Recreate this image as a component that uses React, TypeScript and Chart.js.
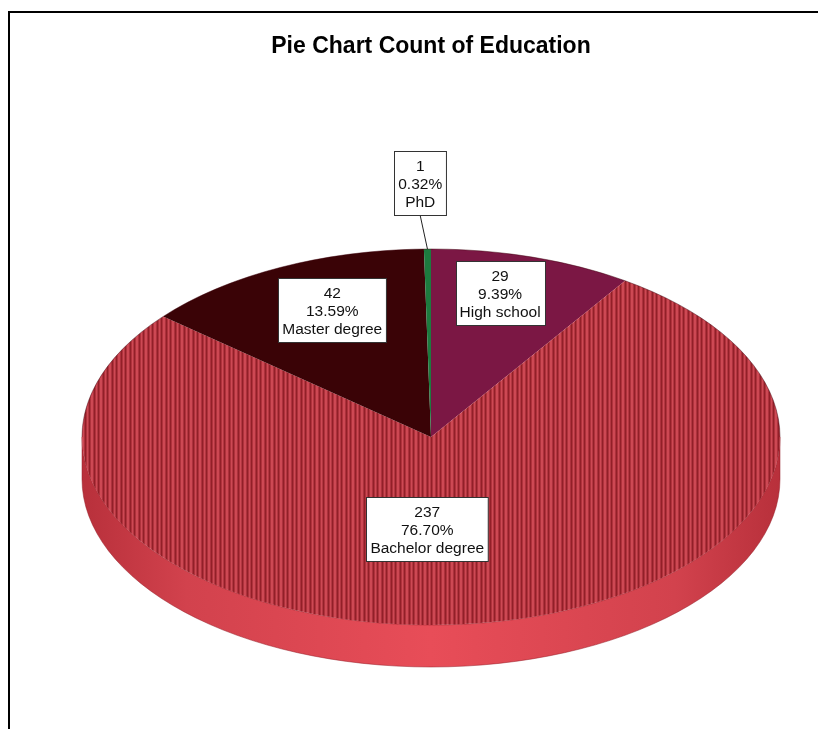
import React, { useEffect, useRef } from 'react';
import { Chart, registerables } from 'chart.js';

Chart.register(...registerables);

// ---------- data ----------
const titleText = 'Pie Chart Count of Education';
const categories = ['High school', 'Bachelor degree', 'Master degree', 'PhD'];
const counts = [29, 237, 42, 1];

// ---------- styles ----------
const FONT = '"Liberation Sans", Arial, Helvetica, sans-serif';
const SOLID_COLORS = ['#7b1744', null, '#3a0306', '#1d7a3e'];
const ELLIPSE = { cx: 431, cy: 437, rx: 349, ry: 188, depth: 42 };
const LABEL_NUDGE = [[-8, -7], [-28, 1], [16, 2], [-6, 0]];

function makeStripes(ctx: CanvasRenderingContext2D): CanvasPattern | string {
  const c = document.createElement('canvas');
  c.width = 9;
  c.height = 4;
  const t = c.getContext('2d');
  if (!t) return '#a83038';
  const cols = ['#8c1c25', '#9a232c', '#cb4651', '#d24d58', '#c8434e', '#8c1c25', '#9a232c', '#cb4651', '#d24d58'];
  cols.forEach((col, i) => {
    t.fillStyle = col;
    t.fillRect(i, 0, 1, 4);
  });
  const p = ctx.createPattern(c, 'repeat');
  return p || '#a83038';
}

export default function App() {
  const ref = useRef<HTMLCanvasElement | null>(null);

  useEffect(() => {
    document.body.style.margin = '0';
    const canvas = ref.current;
    if (!canvas) return;
    const ctx0 = canvas.getContext('2d') as CanvasRenderingContext2D;
    const stripes = makeStripes(ctx0);
    const colors = SOLID_COLORS.map((c) => (c === null ? stripes : c));
    const total = counts.reduce((a, b) => a + b, 0);

    const pie3d = {
      id: 'pie3d',
      beforeDatasetsDraw(chart: any) {
        const ctx: CanvasRenderingContext2D = chart.ctx;
        const meta = chart.getDatasetMeta(0);
        const first = meta.data[0];
        if (!first) return;
        const { x: cx, y: cy, outerRadius: R } = first.getProps(['x', 'y', 'outerRadius'], true);
        const { cx: EX, cy: EY, rx: RX, ry: RY, depth: D } = ELLIPSE;

        // side wall (lower half of the ellipse)
        const grad = ctx.createLinearGradient(EX - RX, 0, EX + RX, 0);
        grad.addColorStop(0, '#b8303b');
        grad.addColorStop(0.15, '#d2424d');
        grad.addColorStop(0.5, '#e84d58');
        grad.addColorStop(0.85, '#d2424d');
        grad.addColorStop(1, '#b8303b');
        meta.data.forEach((arc: any) => {
          const { startAngle, endAngle } = arc.getProps(['startAngle', 'endAngle'], true);
          for (let k = -1; k <= 1; k++) {
            const a0 = Math.max(startAngle + 2 * Math.PI * k, 0);
            const a1 = Math.min(endAngle + 2 * Math.PI * k, Math.PI);
            if (a1 > a0) {
              ctx.save();
              ctx.beginPath();
              ctx.ellipse(EX, EY, RX, RY, 0, a0, a1, false);
              ctx.ellipse(EX, EY + D, RX, RY, 0, a1, a0, true);
              ctx.closePath();
              ctx.fillStyle = grad;
              ctx.fill();
              ctx.strokeStyle = 'rgba(150,30,40,0.5)';
              ctx.lineWidth = 1;
              ctx.stroke();
              ctx.restore();
            }
          }
        });

        const sx = RX / R;
        const sy = RY / R;
        if (typeof stripes !== 'string' && (stripes as any).setTransform) {
          (stripes as CanvasPattern).setTransform(new DOMMatrix([1 / sx, 0, 0, 1 / sy, 0, 0]));
        }
        ctx.save();
        ctx.translate(EX, EY);
        ctx.scale(sx, sy);
        ctx.translate(-cx, -cy);
      },
      afterDatasetsDraw(chart: any) {
        const ctx: CanvasRenderingContext2D = chart.ctx;
        ctx.restore();
        const meta = chart.getDatasetMeta(0);
        const { cx: EX, cy: EY, rx: RX, ry: RY } = ELLIPSE;

        // subtle rim outline on top face
        ctx.save();
        ctx.beginPath();
        ctx.ellipse(EX, EY, RX, RY, 0, Math.PI, 2 * Math.PI, false);
        ctx.strokeStyle = 'rgba(60,0,10,0.45)';
        ctx.lineWidth = 1;
        ctx.stroke();
        ctx.restore();

        const LINE = 18;
        const padX = 4;
        const padY = 5;
        meta.data.forEach((arc: any, i: number) => {
          const { startAngle, endAngle } = arc.getProps(['startAngle', 'endAngle'], true);
          const mid = (startAngle + endAngle) / 2;
          const v = counts[i];
          const pct = (v / total) * 100;
          const lines = [String(v), pct.toFixed(2) + '%', categories[i]];
          const frac = pct < 2 ? 1.35 : pct > 50 ? 0.49 : 0.76;
          const bx = EX + RX * frac * Math.cos(mid) + LABEL_NUDGE[i][0];
          const by = EY + RY * frac * Math.sin(mid) + LABEL_NUDGE[i][1];
          ctx.save();
          ctx.font = `15.5px ${FONT}`;
          const w = Math.max(...lines.map((l) => ctx.measureText(l).width)) + padX * 2;
          const h = LINE * lines.length + padY * 2;
          const left = Math.round(bx - w / 2) + 0.5;
          const top = Math.round(by - h / 2) + 0.5;
          if (pct < 2) {
            ctx.beginPath();
            ctx.moveTo(bx, top + h);
            ctx.lineTo(EX + RX * Math.cos(mid), EY + RY * Math.sin(mid));
            ctx.strokeStyle = '#222';
            ctx.lineWidth = 1;
            ctx.stroke();
          }
          ctx.fillStyle = '#ffffff';
          ctx.fillRect(left, top, w, h);
          ctx.strokeStyle = '#333';
          ctx.lineWidth = 1;
          ctx.strokeRect(left, top, w, h);
          ctx.fillStyle = '#111';
          ctx.textAlign = 'center';
          ctx.textBaseline = 'middle';
          lines.forEach((l, k) => {
            ctx.fillText(l, bx, top + padY + LINE * (k + 0.5) + 1);
          });
          ctx.restore();
        });
      },
    };

    const chart = new Chart(canvas, {
      type: 'pie',
      data: {
        labels: categories,
        datasets: [
          {
            data: counts,
            backgroundColor: colors as any,
            borderWidth: 0,
            clip: false as any,
          },
        ],
      },
      options: {
        animation: false,
        responsive: false,
        rotation: 0,
        events: [],
        layout: { padding: { left: 82, right: 38, top: 0, bottom: 30 } },
        plugins: {
          legend: { display: false },
          tooltip: { enabled: false },
          title: {
            display: true,
            text: titleText,
            fullSize: false,
            color: '#000',
            font: { family: FONT, size: 23, weight: 'bold' },
            padding: { top: 33, bottom: 20 },
          },
        },
      },
      plugins: [pie3d],
    });
    return () => chart.destroy();
  }, []);

  return (
    <div style={{ position: 'relative', width: 818, height: 729, overflow: 'hidden', background: '#fff' }}>
      <div
        style={{
          position: 'absolute',
          left: 8,
          top: 11,
          right: 0,
          bottom: 0,
          borderTop: '2px solid #000',
          borderLeft: '2px solid #000',
        }}
      />
      <canvas ref={ref} width={818} height={729} style={{ position: 'absolute', left: 0, top: 0, width: 818, height: 729 }} />
    </div>
  );
}
